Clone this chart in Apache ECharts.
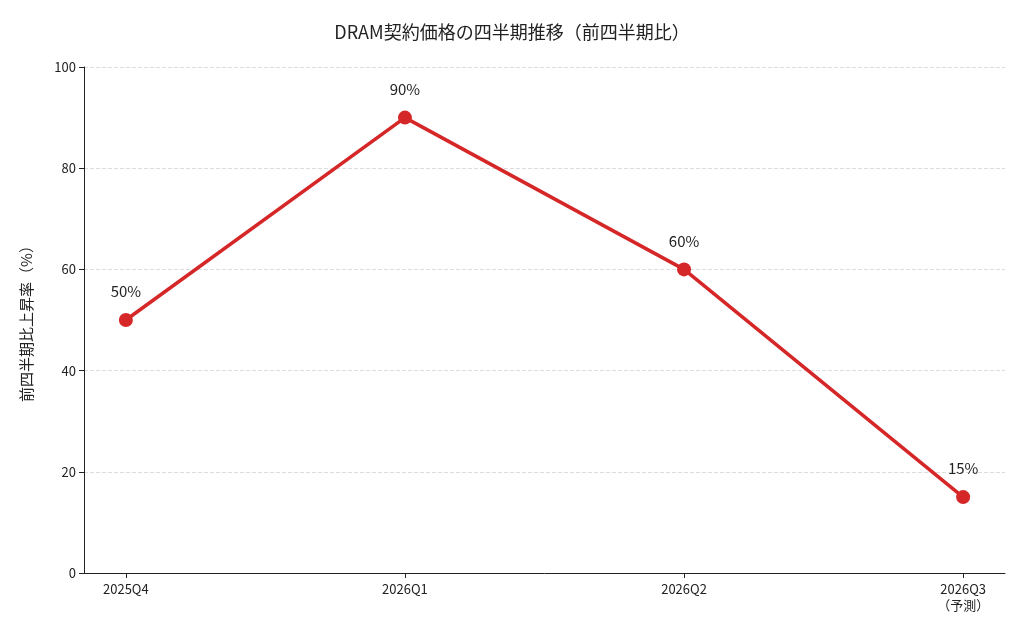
<!DOCTYPE html><html><head><meta charset="utf-8"><script src="https://cdn.jsdelivr.net/npm/echarts@6/dist/echarts.min.js"></script></head><body style="margin:0"><div id="c" style="width:1024px;height:640px"></div><script>
const categories=['2025Q4','2026Q1','2026Q2','2026Q3\n（予測）'];
const values=[50,90,60,15];
const yTicks=[0,20,40,60,80,100];
const f='"Noto Sans CJK JP", sans-serif';
const ch=echarts.init(document.getElementById('c'));
ch.setOption({
title:{text:'DRAM契約価格の四半期推移（前四半期比）',left:'center',top:18,textStyle:{fontFamily:f,fontSize:18,fontWeight:'normal',color:'#222'}},
grid:{left:84,right:19,top:67,bottom:67},
xAxis:{type:'value',min:-0.15,max:3.15,splitLine:{show:false},
axisLine:{onZero:false,lineStyle:{color:'#222'}},
axisTick:{customValues:[0,1,2,3],lineStyle:{color:'#222'}},
axisLabel:{customValues:[0,1,2,3],formatter:v=>categories[Math.round(v)],color:'#222',fontFamily:f,fontSize:13,lineHeight:16}},
yAxis:{type:'value',min:0,max:100,interval:20,name:'前四半期比上昇率（%）',nameLocation:'middle',nameGap:50,nameRotate:90,
nameTextStyle:{fontFamily:f,fontSize:15,color:'#222'},
axisLine:{show:true,onZero:false,lineStyle:{color:'#222'}},axisTick:{show:true,lineStyle:{color:'#222'}},
axisLabel:{color:'#222',fontFamily:f,fontSize:13},
splitLine:{lineStyle:{type:'dashed',color:'#ddd'}}},
series:[{type:'line',data:values.map((v,i)=>[i,v]),symbol:'circle',symbolSize:14,
lineStyle:{color:'#d62728',width:3.5},itemStyle:{color:'#d62728'},
label:{show:true,position:'top',distance:14,formatter:p=>p.value[1]+'%',fontFamily:f,fontSize:15,color:'#222'}}]
});
</script></body></html>
